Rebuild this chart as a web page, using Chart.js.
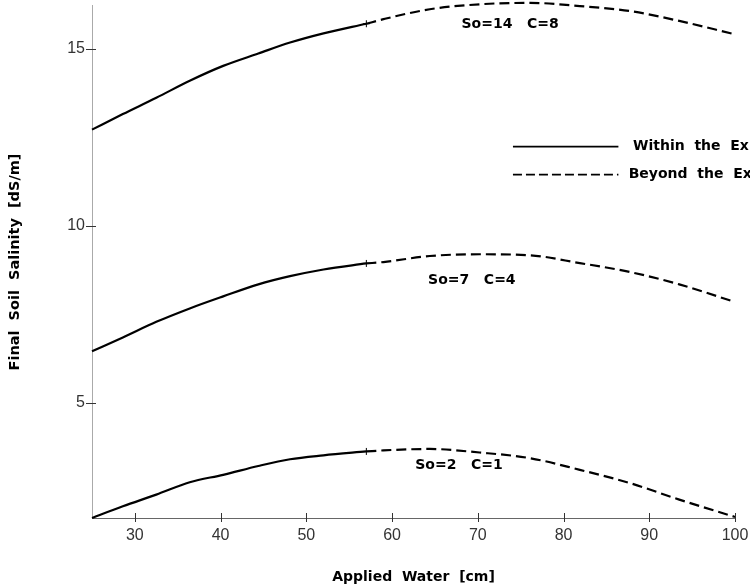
<!DOCTYPE html>
<html><head><meta charset="utf-8">
<script src="https://cdn.jsdelivr.net/npm/chart.js@4"></script>
<style>html,body{margin:0;padding:0;background:#fff;}#wrap{width:750px;height:586px;}</style>
</head><body><div id="wrap"><canvas id="c" width="750" height="586"></canvas></div>
<script>
// Applied water [cm] — within the experimental range (solid)
const solidX = [25, 28.6, 32.5, 36.4, 40.3, 44.4, 48.1, 52.0, 57.0];
const solidS14 = [12.72, 13.16, 13.62, 14.10, 14.52, 14.87, 15.18, 15.44, 15.71];
const solidS7  = [6.46, 6.85, 7.29, 7.67, 8.01, 8.35, 8.58, 8.77, 8.94];
const solidS2  = [1.75, 2.08, 2.41, 2.76, 2.97, 3.22, 3.41, 3.52, 3.63];
// beyond the experimental range (dashed)
const dashX = [57.0, 59.0, 64.4, 70.2, 76.1, 81.9, 87.7, 93.5, 100];
const dashS14 = [15.71, 15.84, 16.12, 16.26, 16.30, 16.21, 16.07, 15.79, 15.41];
const dashS7  = [8.94, 8.98, 9.15, 9.20, 9.17, 8.95, 8.70, 8.35, 7.85];
const dashS2  = [3.63, 3.66, 3.70, 3.60, 3.44, 3.11, 2.74, 2.27, 1.78];
const curveLabels = ["So=14   C=8", "So=7   C=4", "So=2   C=1"];
const legendLabels = ["Within  the  Ex", "Beyond  the  Ex"];
const xTicks = [30, 40, 50, 60, 70, 80, 90, 100];
const yTicks = [5, 10, 15];
const xTitle = "Applied  Water  [cm]";
const yTitle = "Final  Soil  Salinity  [dS/m]";

function pts(xs, ys){ return xs.map((x,i)=>({x:x, y:ys[i]})); }
function ds(xs, ys, dashed){
  return {
    data: pts(xs, ys),
    borderColor: '#000', backgroundColor: '#000',
    borderWidth: 2.2,
    borderDash: dashed ? [10,5] : [],
    cubicInterpolationMode: 'monotone',
    pointRadius: dashed ? 0 : xs.map((x,i)=> i===xs.length-1 ? 3.5 : 0),
    pointStyle: 'cross', pointBorderWidth: 1,
    fill: false, clip: false
  };
}
function noPad(s){ s.paddingTop = 0; s.paddingBottom = 0; s.paddingLeft = 0; s.paddingRight = 0; }

const annot = {
  id: 'annot',
  afterDraw(chart){
    const ctx = chart.ctx, xs = chart.scales.x, ys = chart.scales.y, a = chart.chartArea;
    ctx.save();
    // tick crosses
    ctx.strokeStyle = '#333'; ctx.lineWidth = 1;
    xTicks.forEach(v=>{ const px = Math.round(xs.getPixelForValue(v))+0.5;
      ctx.beginPath(); ctx.moveTo(px, a.bottom-5); ctx.lineTo(px, a.bottom+4); ctx.stroke(); });
    yTicks.forEach(v=>{ const py = Math.round(ys.getPixelForValue(v))+0.5;
      ctx.beginPath(); ctx.moveTo(a.left-6, py); ctx.lineTo(a.left+4, py); ctx.stroke(); });
    // axis titles
    ctx.fillStyle = '#000';
    ctx.font = 'bold 14px "DejaVu Sans"';
    ctx.textAlign = 'center'; ctx.textBaseline = 'middle';
    ctx.fillText(xTitle, (a.left+a.right)/2, 577);
    ctx.save(); ctx.translate(15, 262); ctx.rotate(-Math.PI/2);
    ctx.font = 'bold 14.5px "DejaVu Sans"';
    ctx.fillText(yTitle, 0, 0); ctx.restore();
    // curve labels
    ctx.font = 'bold 14px "DejaVu Sans"';
    ctx.textAlign = 'left';
    const lp = [[68.1, 15.70],[64.2, 8.46],[62.7, 3.25]];
    curveLabels.forEach((t,i)=> ctx.fillText(t, xs.getPixelForValue(lp[i][0]), ys.getPixelForValue(lp[i][1])));
    // legend
    const l1 = xs.getPixelForValue(74.1), l2 = xs.getPixelForValue(86.4);
    const y1 = ys.getPixelForValue(12.24), y2 = ys.getPixelForValue(11.45);
    ctx.strokeStyle = '#000'; ctx.lineWidth = 1.6;
    ctx.beginPath(); ctx.moveTo(l1, y1); ctx.lineTo(l2, y1); ctx.stroke();
    ctx.setLineDash([9,4]);
    ctx.beginPath(); ctx.moveTo(l1, y2); ctx.lineTo(l2, y2); ctx.stroke();
    ctx.setLineDash([]);
    ctx.fillText(legendLabels[0], xs.getPixelForValue(88.1), y1);
    ctx.fillText(legendLabels[1], xs.getPixelForValue(87.6), y2);
    ctx.restore();
  }
};

new Chart(document.getElementById('c'), {
  type: 'line',
  data: { datasets: [
    ds(solidX, solidS14, false), ds(dashX, dashS14, true),
    ds(solidX, solidS7, false),  ds(dashX, dashS7, true),
    ds(solidX, solidS2, false),  ds(dashX, dashS2, true)
  ]},
  options: {
    responsive: false, animation: false, devicePixelRatio: 1,
    layout: { padding: { top: 1, right: 15, left: 0, bottom: 0 } },
    plugins: { legend: { display: false }, tooltip: { enabled: false } },
    scales: {
      x: { type: 'linear', min: 25, max: 100,
        afterBuildTicks: s => { s.ticks = xTicks.map(v=>({value:v})); },
        afterFit: s => { s.height = 68; noPad(s); },
        grid: { display: false, drawTicks: false },
        border: { display: true, color: '#666', width: 1 },
        ticks: { autoSkip: false, maxRotation: 0, padding: 8, color: '#333',
          font: { family: '"Liberation Sans"', size: 16 } } },
      y: { type: 'linear', min: 1.75, max: 16.24,
        afterBuildTicks: s => { s.ticks = yTicks.map(v=>({value:v})); },
        afterFit: s => { s.width = 92; noPad(s); },
        grid: { display: false, drawTicks: false },
        border: { display: true, color: '#aaa', width: 1 },
        ticks: { padding: 7, color: '#333',
          font: { family: '"Liberation Sans"', size: 16 } } }
    }
  },
  plugins: [annot]
});
</script></body></html>
